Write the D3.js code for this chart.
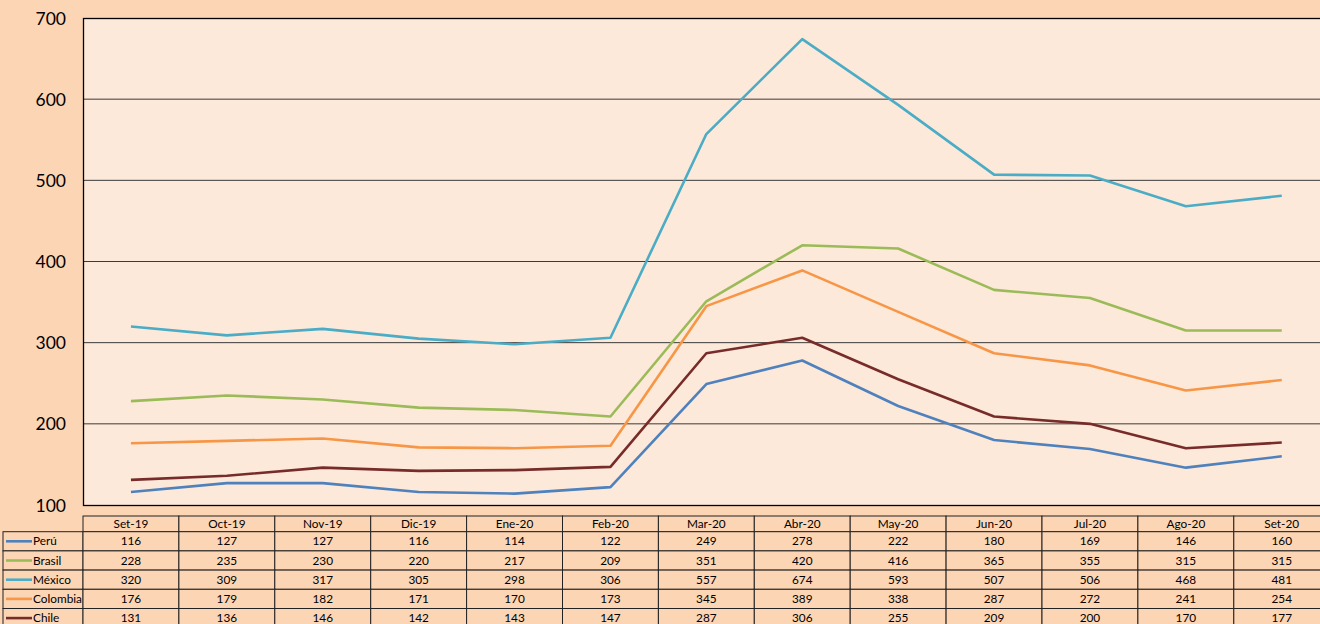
<!DOCTYPE html>
<html><head><meta charset="utf-8">
<script src="https://cdn.jsdelivr.net/npm/d3@7"></script>
<style>html,body{margin:0;padding:0;background:#FCD5B4;overflow:hidden}</style>
</head><body><svg id="c" width="1320" height="624"></svg>
<script>
const categories = ["Set-19","Oct-19","Nov-19","Dic-19","Ene-20","Feb-20","Mar-20","Abr-20","May-20","Jun-20","Jul-20","Ago-20","Set-20"];
const seriesNames = ["Perú","Brasil","México","Colombia","Chile"];
const peru     = [116,127,127,116,114,122,249,278,222,180,169,146,160];
const brasil   = [228,235,230,220,217,209,351,420,416,365,355,315,315];
const mexico   = [320,309,317,305,298,306,557,674,593,507,506,468,481];
const colombia = [176,179,182,171,170,173,345,389,338,287,272,241,254];
const chile    = [131,136,146,142,143,147,287,306,255,209,200,170,177];
const colors   = ["#4F81BD","#9BBB59","#4BACC6","#F79646","#772C2A"];
const yTicks   = [100,200,300,400,500,600,700];

const series = [peru,brasil,mexico,colombia,chile];
const svg = d3.select("#c");
const L = 83, T = 18, B = 505, colW = 95.9, R = L + colW*categories.length;
const FONT = "Lato, 'Open Sans', sans-serif";

const x = d3.scaleBand().domain(categories).range([L, R]);
const y = d3.scaleLinear().domain([100,700]).range([B, T]);

svg.append("rect").attr("width",1320).attr("height",624).attr("fill","#FCD5B4");
svg.append("rect").attr("x",L).attr("y",T).attr("width",R-L).attr("height",B-T).attr("fill","#FDE9D9");

// gridlines
svg.append("g").selectAll("line").data(yTicks.filter(d=>d>100 && d<700)).join("line")
  .attr("x1",L).attr("x2",R).attr("y1",d=>y(d)).attr("y2",d=>y(d))
  .attr("stroke","#3a3a3a").attr("stroke-width",1);

// plot border
svg.append("rect").attr("x",L+0.5).attr("y",T+0.5).attr("width",R-L).attr("height",B-T)
  .attr("fill","none").attr("stroke","#000").attr("stroke-width",1.3);

// y axis labels
const yAxis = d3.axisLeft(y).tickValues(yTicks).tickSize(0).tickPadding(17);
const ga = svg.append("g").attr("transform",`translate(${L},0)`).call(yAxis);
ga.select(".domain").remove();
ga.selectAll("text").attr("font-family",FONT).attr("font-size",17.5).attr("fill","#000").attr("dy","0.35em");

// lines
const line = d3.line().x((d,i)=>x(categories[i])+x.bandwidth()/2).y(d=>y(d));
svg.append("g").selectAll("path").data(series).join("path")
  .attr("d",d=>line(d)).attr("fill","none")
  .attr("stroke",(d,i)=>colors[i]).attr("stroke-width",2.6).attr("stroke-linejoin","round");

// data table
const hTop = 516, hH = 15.7, rH = 19.2, legL = 3;
const tbl = svg.append("g").attr("font-family",FONT).attr("font-size",11.8).attr("fill","#000");
// header
tbl.selectAll("rect.h").data(categories).join("rect").attr("class","h")
  .attr("x",d=>x(d)).attr("y",hTop).attr("width",x.bandwidth()).attr("height",hH)
  .attr("fill","#FCD5B4").attr("stroke","#222").attr("stroke-width",1);
tbl.selectAll("text.h").data(categories).join("text").attr("class","h")
  .attr("x",d=>x(d)+x.bandwidth()/2).attr("y",hTop+hH/2).attr("dy","0.35em")
  .attr("text-anchor","middle").text(d=>d);
// rows
seriesNames.forEach((name,si)=>{
  const ry = hTop+hH+si*rH;
  const g = tbl.append("g");
  g.append("rect").attr("x",legL).attr("y",ry).attr("width",L-legL).attr("height",rH)
    .attr("fill","#FCD5B4").attr("stroke","#222").attr("stroke-width",1);
  g.append("line").attr("x1",legL+3).attr("x2",legL+29).attr("y1",ry+rH/2).attr("y2",ry+rH/2)
    .attr("stroke",colors[si]).attr("stroke-width",2.6);
  g.append("text").attr("x",legL+30).attr("y",ry+rH/2).attr("dy","0.35em").text(name);
  g.selectAll("rect.v").data(series[si]).join("rect").attr("class","v")
    .attr("x",(d,i)=>x(categories[i])).attr("y",ry).attr("width",x.bandwidth()).attr("height",rH)
    .attr("fill","#FCD5B4").attr("stroke","#222").attr("stroke-width",1);
  g.selectAll("text.v").data(series[si]).join("text").attr("class","v")
    .attr("x",(d,i)=>x(categories[i])+x.bandwidth()/2).attr("y",ry+rH/2).attr("dy","0.35em")
    .attr("text-anchor","middle").text(d=>d);
});
</script></body></html>
